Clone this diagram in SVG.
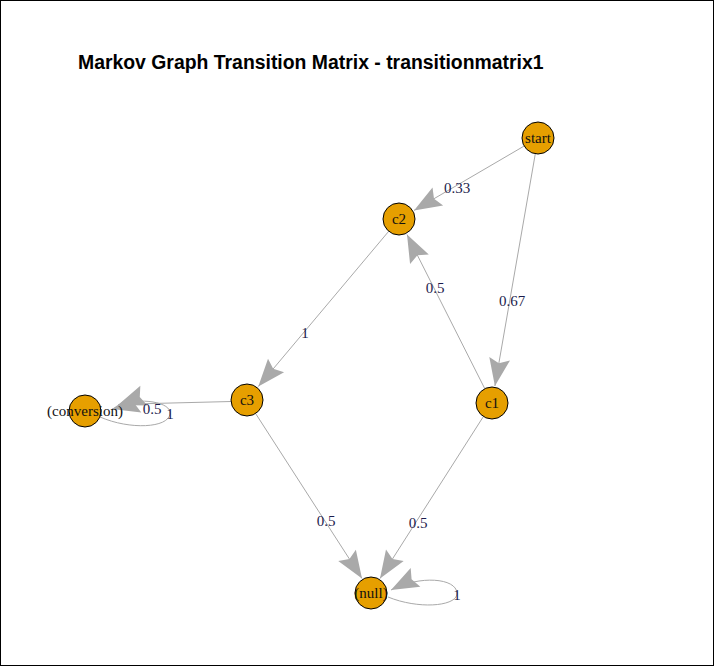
<svg xmlns="http://www.w3.org/2000/svg" width="714" height="666" viewBox="0 0 714 666">
<style>
.edge{fill:none;stroke:#a9a9a9;stroke-width:1}
.node circle{fill:#e69f00;stroke:#000;stroke-width:1}
.nl{font-family:"Liberation Serif","Times New Roman",serif;font-size:15px;fill:#111;text-anchor:middle;dominant-baseline:central}
.el{font-family:"Liberation Serif","Times New Roman",serif;font-size:15px;fill:#1c1c4c;text-anchor:middle;dominant-baseline:central}
.title{font-family:"Liberation Sans",Arial,sans-serif;font-size:19.4px;font-weight:bold;fill:#000}
</style>
<defs>
<marker id="ah" markerUnits="userSpaceOnUse" markerWidth="32" markerHeight="32" viewBox="-27 -13 29 26" refX="0" refY="0" orient="auto">
<path d="M0,0 L-25,-9.5 L-21,0 L-25,9.5 Z" fill="#a9a9a9"/>
</marker>
</defs>
<rect x="0.5" y="0.5" width="713" height="665" fill="#fff" stroke="#000" stroke-width="1"/>
<text class="title" x="78" y="69">Markov Graph Transition Matrix - transitionmatrix1</text>
<g id="connectors">
<line class="edge" x1="524.2" y1="146" x2="414" y2="210.4" marker-end="url(#ah)"/>
<line class="edge" x1="535.3" y1="153.8" x2="494.9" y2="386" marker-end="url(#ah)"/>
<line class="edge" x1="484.8" y1="388.7" x2="407" y2="234.6" marker-end="url(#ah)"/>
<line class="edge" x1="388.7" y1="231.3" x2="258.3" y2="386.6" marker-end="url(#ah)"/>
<polyline class="edge" points="231,401.5 132,404 112,409" marker-end="url(#ah)"/>
<path class="edge" d="M100,417 C130,430 168,428 170,414 C172,402 140,397 118,405" marker-end="url(#ah)"/>
<line class="edge" x1="255.6" y1="413.5" x2="362" y2="578.5" marker-end="url(#ah)"/>
<line class="edge" x1="483.4" y1="416.5" x2="380" y2="578.5" marker-end="url(#ah)"/>
<path class="edge" d="M388,597 C420,610 458,606 457,593 C456,578 420,575 391,590" marker-end="url(#ah)"/>
<text class="el" x="457" y="188">0.33</text>
<text class="el" x="512" y="301">0.67</text>
<text class="el" x="435" y="288">0.5</text>
<text class="el" x="305" y="333">1</text>
<text class="el" x="152" y="409">0.5</text>
<text class="el" x="170" y="414">1</text>
<text class="el" x="326" y="521">0.5</text>
<text class="el" x="418" y="523">0.5</text>
<text class="el" x="457" y="595">1</text>
</g>
<g id="node-start" class="node"><circle cx="538" cy="138" r="16"/><text class="nl" x="538" y="138">start</text></g>
<g id="node-c2" class="node"><circle cx="399" cy="219" r="16"/><text class="nl" x="399" y="219">c2</text></g>
<g id="node-c1" class="node"><circle cx="492" cy="403" r="16"/><text class="nl" x="492" y="403">c1</text></g>
<g id="node-c3" class="node"><circle cx="247" cy="400" r="16"/><text class="nl" x="247" y="400">c3</text></g>
<g id="node-conversion" class="node"><circle cx="85" cy="411" r="16"/><text class="nl" x="85" y="411" fill="#22224a">(conversion)</text></g>
<g id="node-null" class="node"><circle cx="371" cy="593" r="16"/><text class="nl" x="371" y="593">(null)</text></g>
</svg>
